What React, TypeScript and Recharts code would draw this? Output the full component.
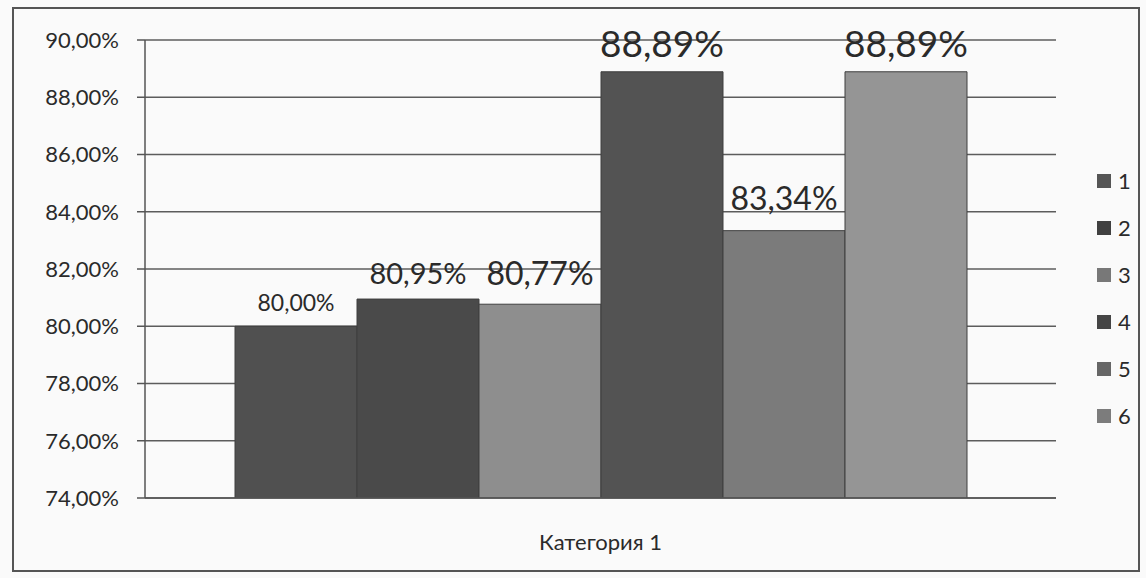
import React from 'react';
import {
  BarChart,
  Bar,
  XAxis,
  YAxis,
  CartesianGrid,
  LabelList
} from 'recharts';

const categories = ['Категория 1'];
const seriesNames = ['1', '2', '3', '4', '5', '6'];
const seriesValues = [80.0, 80.95, 80.77, 88.89, 83.34, 88.89];
const yTicks = [74, 76, 78, 80, 82, 84, 86, 88, 90];

const barColors = ['#505050', '#4a4a4a', '#8e8e8e', '#535353', '#7b7b7b', '#959595'];
const legendColors = ['#555555', '#404040', '#787878', '#454545', '#666666', '#7c7c7c'];
const labelFontSizes = [23, 29, 32, 37, 32, 37];
const labelOffsets = [24, 27, 32, 29, 33, 29];

const FONT = 'Lato, "Open Sans", sans-serif';

const data = categories.map((name) => {
  const row: Record<string, string | number> = { name };
  seriesNames.forEach((s, i) => {
    row['s' + s] = seriesValues[i];
  });
  return row;
});

const formatPct = (v: number) => `${v.toFixed(2).replace('.', ',')}%`;

// legend is drawn as a plain overlay so it takes no room from the plot
const LegendBox = () => (
  <div style={{ position: 'absolute', left: 1097, top: 157, fontFamily: FONT }}>
    {seriesNames.map((s, i) => (
      <div
        key={s}
        style={{ display: 'flex', alignItems: 'center', height: 47, fontSize: 22, color: '#2a2a2a' }}
      >
        <span style={{ width: 14, height: 14, background: legendColors[i], marginRight: 7 }} />
        {s}
      </div>
    ))}
  </div>
);

export default function App() {
  return (
    <div style={{ position: 'relative', width: 1146, height: 578, background: '#fafafa' }}>
      <style>{'body{margin:0;}'}</style>
      <div
        style={{
          position: 'absolute',
          left: 12,
          top: 7,
          width: 1128,
          height: 565,
          border: '2px solid #555',
          boxSizing: 'border-box'
        }}
      />
      <div style={{ position: 'absolute', left: 0, top: 0 }}>
        <BarChart
          width={1146}
          height={578}
          data={data}
          margin={{ top: 40, right: 90, left: 0, bottom: 0 }}
          barCategoryGap={90}
          barGap={0}
        >
          <CartesianGrid vertical={false} stroke="#5c5c5c" strokeWidth={1.5} />
          <XAxis
            dataKey="name"
            height={80}
            tickLine={false}
            axisLine={{ stroke: '#555', strokeWidth: 1.5 }}
            tick={{ fontSize: 22, fill: '#2a2a2a', fontFamily: FONT }}
            dy={28}
          />
          <YAxis
            width={145}
            domain={[74, 90]}
            ticks={yTicks}
            interval={0}
            allowDataOverflow
            tickFormatter={formatPct}
            tickSize={8}
            tickMargin={18}
            tickLine={{ stroke: '#555', strokeWidth: 1.5 }}
            axisLine={{ stroke: '#555', strokeWidth: 1.5 }}
            tick={{ fontSize: 22, fill: '#2a2a2a', fontFamily: FONT }}
          />
          {seriesNames.map((s, i) => (
            <Bar
              key={s}
              dataKey={'s' + s}
              name={s}
              fill={barColors[i]}
              stroke="#3f3f3f"
              strokeWidth={1}
              isAnimationActive={false}
            >
              <LabelList
                dataKey={'s' + s}
                content={(props: any) => {
                  const { x, y, width, value } = props;
                  return (
                    <text
                      x={Number(x) + Number(width) / 2}
                      y={Number(y) - labelOffsets[i]}
                      textAnchor="middle"
                      dominantBaseline="central"
                      fontSize={labelFontSizes[i]}
                      fontFamily={FONT}
                      fill="#2a2a2a"
                    >
                      {formatPct(Number(value))}
                    </text>
                  );
                }}
              />
            </Bar>
          ))}
        </BarChart>
      </div>
      <LegendBox />
    </div>
  );
}
